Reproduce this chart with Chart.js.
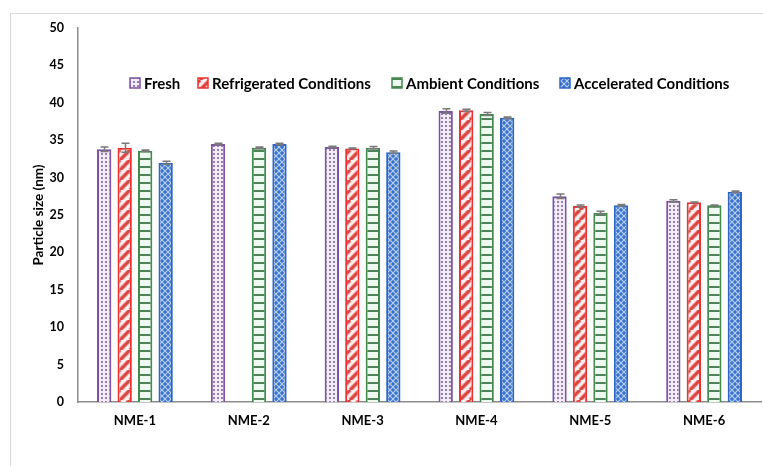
<!DOCTYPE html>
<html lang="en">
<head>
  <meta charset="UTF-8">
  <title>Particle size of NME formulations</title>
  <script src="https://cdn.jsdelivr.net/npm/chart.js@4.4.0/dist/chart.umd.min.js"></script>
  <style>
    html, body { margin: 0; padding: 0; background: #fff; }
    body { width: 763px; height: 466px; position: relative; overflow: hidden; }
    .frame {
      position: absolute; left: 10px; top: 13px;
      width: 800px; height: 500px;
      border: 1px solid #d9d9d9;
    }
    #wrap { position: absolute; left: 0; top: 0; width: 763px; height: 466px; }
  </style>
</head>
<body>
  <div class="frame"></div>
  <div id="wrap"><canvas id="sizeChart"></canvas></div>

  <script>
    // Mean particle size (nm) and standard deviation per storage condition
    const categories = ['NME-1', 'NME-2', 'NME-3', 'NME-4', 'NME-5', 'NME-6'];
    const fresh = [33.8, 34.5, 34.1, 38.9, 27.5, 26.9];
    const freshErr = [0.3, 0.1, 0.1, 0.3, 0.3, 0.15];
    const refrigerated = [34.0, null, 33.9, 39.0, 26.2, 26.7];
    const refrigeratedErr = [0.6, null, 0.05, 0.15, 0.15, 0.05];
    const ambient = [33.6, 34.0, 34.0, 38.5, 25.3, 26.3];
    const ambientErr = [0.1, 0.1, 0.15, 0.2, 0.2, 0.05];
    const accelerated = [32.0, 34.5, 33.4, 38.0, 26.3, 28.1];
    const acceleratedErr = [0.2, 0.1, 0.15, 0.1, 0.1, 0.1];
    const yTicks = [0, 5, 10, 15, 20, 25, 30, 35, 40, 45, 50];

    const FONT = 'Lato, "Open Sans", sans-serif';

    // Small tiles used as bar fills
    function makePattern(kind) {
      const c = document.createElement('canvas');
      const g = c.getContext('2d');
      if (kind === 'dots') {
        c.width = 4; c.height = 4;
        g.fillStyle = '#f3ebf6'; g.fillRect(0, 0, 4, 4);
        g.fillStyle = '#9480ad'; g.fillRect(1, 1, 2, 2);
      } else if (kind === 'stripes') {
        c.width = 10; c.height = 10;
        g.fillStyle = '#fff2f4'; g.fillRect(0, 0, 10, 10);
        [[5, '#f6b3b5'], [3, '#d9463f']].forEach(([w, col]) => {
          g.strokeStyle = col; g.lineWidth = w;
          [-10, 0, 10].forEach(ox => {
            g.beginPath(); g.moveTo(ox, 10); g.lineTo(ox + 10, 0); g.stroke();
          });
        });
      } else if (kind === 'hlines') {
        c.width = 4; c.height = 8;
        g.fillStyle = '#eefaf0'; g.fillRect(0, 0, 4, 8);
        g.fillStyle = '#4f8258'; g.fillRect(0, 6, 4, 2);
      } else {
        c.width = 6; c.height = 6;
        g.fillStyle = '#3a72cc'; g.fillRect(0, 0, 6, 6);
        g.strokeStyle = '#b6cff1'; g.lineWidth = 1.2;
        g.beginPath();
        g.moveTo(0, 0); g.lineTo(6, 6);
        g.moveTo(6, 0); g.lineTo(0, 6);
        g.stroke();
      }
      return document.createElement('canvas').getContext('2d').createPattern(c, 'repeat');
    }

    const series = [
      { label: 'Fresh', data: fresh, err: freshErr, fill: makePattern('dots'), border: '#7c52a3' },
      { label: 'Refrigerated Conditions', data: refrigerated, err: refrigeratedErr, fill: makePattern('stripes'), border: '#ee3030' },
      { label: 'Ambient Conditions', data: ambient, err: ambientErr, fill: makePattern('hlines'), border: '#3f8a4c' },
      { label: 'Accelerated Conditions', data: accelerated, err: acceleratedErr, fill: makePattern('lattice'), border: '#2f66c6' }
    ];

    // error bars drawn over each bar
    const errorBars = {
      id: 'errorBars',
      afterDatasetsDraw(chart) {
        const ctx = chart.ctx;
        const y = chart.scales.y;
        ctx.save();
        ctx.strokeStyle = '#7a7a7a';
        ctx.lineWidth = 1.5;
        chart.data.datasets.forEach((ds, i) => {
          const meta = chart.getDatasetMeta(i);
          meta.data.forEach((bar, j) => {
            const v = ds.data[j];
            const e = series[i].err[j];
            if (v == null || e == null) return;
            const top = y.getPixelForValue(v + e);
            const bot = y.getPixelForValue(v - e);
            const x = Math.round(bar.x) + 0.5;
            ctx.beginPath();
            ctx.moveTo(x, top); ctx.lineTo(x, bot);
            ctx.moveTo(x - 4, top); ctx.lineTo(x + 4, top);
            ctx.moveTo(x - 4, bot); ctx.lineTo(x + 4, bot);
            ctx.stroke();
          });
        });
        ctx.restore();
      }
    };

    // legend sits inside the plot, near the top
    const insideLegend = {
      id: 'insideLegend',
      afterDraw(chart) {
        const ctx = chart.ctx;
        const starts = [130, 198, 392, 560];
        const cy = 83;
        ctx.save();
        ctx.font = 'bold 15px ' + FONT;
        ctx.textBaseline = 'middle';
        series.forEach((s, i) => {
          const x = starts[i];
          ctx.fillStyle = s.fill;
          ctx.fillRect(x, cy - 5, 10, 10);
          ctx.strokeStyle = s.border;
          ctx.lineWidth = 1.5;
          ctx.strokeRect(x, cy - 5, 10, 10);
          ctx.fillStyle = '#000';
          ctx.fillText(s.label, x + 14, cy + 1);
        });
        ctx.restore();
      }
    };

    new Chart(document.getElementById('sizeChart'), {
      type: 'bar',
      data: {
        labels: categories,
        datasets: series.map(s => ({
          label: s.label,
          data: s.data,
          backgroundColor: s.fill,
          borderColor: s.border,
          borderWidth: 2,
          categoryPercentage: 0.72,
          barPercentage: 0.7
        }))
      },
      options: {
        responsive: true,
        maintainAspectRatio: false,
        animation: false,
        layout: { padding: { left: 0, top: 28, right: 2, bottom: 0 } },
        plugins: {
          legend: { display: false },
          tooltip: { enabled: false }
        },
        scales: {
          x: {
            grid: { display: false, drawTicks: false },
            border: { display: true, color: '#8c8c8c', width: 1.5 },
            ticks: { color: '#000', font: { family: FONT, size: 13, weight: 'bold' }, padding: 11 },
            afterFit(scale) { scale.height = 64; }
          },
          y: {
            min: 0,
            max: 50,
            afterBuildTicks(scale) { scale.ticks = yTicks.map(v => ({ value: v })); },
            grid: { display: false, drawTicks: false },
            border: { display: true, color: '#8c8c8c', width: 1.5 },
            ticks: { color: '#000', font: { family: FONT, size: 12.5, weight: 'bold' }, padding: 14 },
            title: {
              display: true,
              text: 'Particle size (nm)',
              color: '#000',
              font: { family: FONT, size: 13.5, weight: 'bold' },
              padding: { top: 31, bottom: 0 }
            },
            afterFit(scale) { scale.width = 78; }
          }
        }
      },
      plugins: [errorBars, insideLegend]
    });
  </script>
</body>
</html>
